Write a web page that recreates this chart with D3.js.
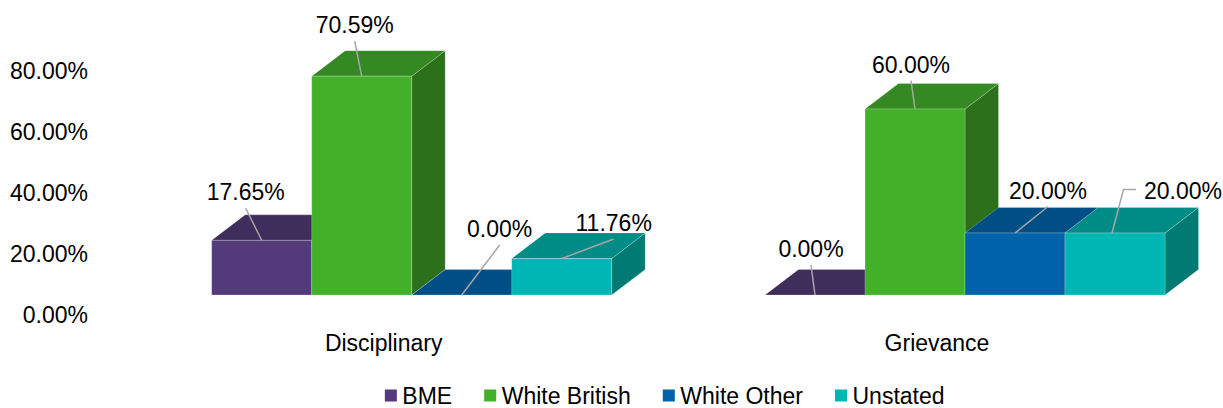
<!DOCTYPE html>
<html>
<head>
<meta charset="utf-8">
<script src="https://cdn.jsdelivr.net/npm/d3@7"></script>
<style>
  html, body { margin: 0; padding: 0; background: #fff; }
  svg { display: block; font-family: "Liberation Sans", Arial, sans-serif; }
</style>
</head>
<body>
<svg id="chart" width="1223" height="408"></svg>
<script>
// ---- data ----
const categories = ["Disciplinary", "Grievance"];
const seriesNames = ["BME", "White British", "White Other", "Unstated"];
const disciplinary = [17.65, 70.59, 0.00, 11.76];
const grievance = [0.00, 60.00, 20.00, 20.00];
const tickValues = [0, 20, 40, 60, 80];

// ---- styling ----
// front / top / side shades for each series
const palette = {
  "BME":           { front: "#533A7B", top: "#3F2D5B", side: "#33244A" },
  "White British": { front: "#43B02A", top: "#348922", side: "#2C701C" },
  "White Other":   { front: "#0063A9", top: "#004E86", side: "#00406E" },
  "Unstated":      { front: "#00B6B4", top: "#008C86", side: "#007A72" }
};
// data label placement relative to the front-top centre of each bar
const labelOffsets = {
  "Disciplinary": [[-16, -40], [-7, -43], [38, -58], [52, -27.5]],
  "Grievance":    [[-4, -38], [-4, -36.5], [33, -34.5], [68, -34.5]]
};
const elbowLeader = { "Grievance": [false, false, false, true], "Disciplinary": [false, false, false, false] };

const FONT = 23;
const depth = { dx: 33.5, dy: -25.5 };

const svg = d3.select("#chart");

// ---- scales ----
const xCat = d3.scalePoint().domain(categories).range([411.7, 965]);
const groupWidth = 400;
const xSeries = d3.scaleBand().domain(seriesNames).range([0, groupWidth]);
const y = d3.scaleLinear().domain([0, 80]).range([295, 47]);
const yAxisScale = d3.scaleLinear().domain([0, 80]).range([315, 70.6]);
const pct = v => d3.format(".2%")(v / 100);

// ---- value axis labels ----
svg.append("g").selectAll("text")
  .data(tickValues)
  .join("text")
  .attr("x", 88)
  .attr("y", d => yAxisScale(d))
  .attr("dy", "0.35em")
  .attr("text-anchor", "end")
  .attr("font-size", FONT)
  .attr("fill", "#000")
  .text(d => pct(d));

// ---- bars ----
const rows = [];
categories.forEach((cat, ci) => {
  const vals = ci === 0 ? disciplinary : grievance;
  seriesNames.forEach((s, si) => rows.push({ cat, s, si, v: vals[si] }));
});

const barsG = svg.append("g");
rows.forEach(d => {
  const x0 = xCat(d.cat) - groupWidth / 2 + xSeries(d.s);
  const x1 = x0 + xSeries.bandwidth();
  const yb = y(0), yt = y(d.v);
  const c = palette[d.s];
  const g = barsG.append("g");
  const pts = p => p.map(q => q.join(",")).join(" ");
  const edge = "rgba(255,255,255,0.28)";
  // right side face
  g.append("polygon")
    .attr("points", pts([[x1, yt], [x1 + depth.dx, yt + depth.dy], [x1 + depth.dx, yb + depth.dy], [x1, yb]]))
    .attr("fill", c.side).attr("stroke", edge).attr("stroke-width", 0.8);
  // top face
  g.append("polygon")
    .attr("points", pts([[x0, yt], [x0 + depth.dx, yt + depth.dy], [x1 + depth.dx, yt + depth.dy], [x1, yt]]))
    .attr("fill", c.top).attr("stroke", edge).attr("stroke-width", 0.8);
  // front face
  if (yb - yt > 0) {
    g.append("rect")
      .attr("x", x0).attr("y", yt)
      .attr("width", x1 - x0).attr("height", yb - yt)
      .attr("fill", c.front).attr("stroke", edge).attr("stroke-width", 0.8);
  }
});

// ---- data labels with leader lines ----
const labelsG = svg.append("g");
rows.forEach(d => {
  const ax = xCat(d.cat) - groupWidth / 2 + xSeries(d.s) + xSeries.bandwidth() / 2;
  const ay = y(d.v);
  const [dx, dy] = labelOffsets[d.cat][d.si];
  const tx = ax + dx, ty = ay + dy;
  const t = labelsG.append("text")
    .attr("x", tx).attr("y", ty)
    .attr("text-anchor", "middle")
    .attr("font-size", FONT)
    .attr("fill", "#000")
    .text(pct(d.v));
  let path;
  if (elbowLeader[d.cat][d.si]) {
    const w = t.node().getComputedTextLength();
    const lx = tx - w / 2 - 8, ly = ty - 9;
    path = [[lx, ly], [lx - 12.5, ly], [ax - 3, ay]];
  } else {
    path = [[tx, ty + 8], [ax, ay]];
  }
  labelsG.append("path")
    .attr("d", d3.line()(path))
    .attr("fill", "none")
    .attr("stroke", "#A6A6A6")
    .attr("stroke-width", 1.5);
});

// ---- category labels ----
svg.append("g").selectAll("text")
  .data(categories)
  .join("text")
  .attr("x", d => xCat(d) - 28)
  .attr("y", 351)
  .attr("text-anchor", "middle")
  .attr("font-size", FONT)
  .attr("fill", "#000")
  .text(d => d);

// ---- legend ----
const legend = svg.append("g");
const sq = 12, gapText = 5.5, gapItem = 32;
let cursor = 0;
seriesNames.forEach(s => {
  const g = legend.append("g");
  g.append("rect").attr("x", 0).attr("y", -sq / 2).attr("width", sq).attr("height", sq)
    .attr("fill", palette[s].front);
  const t = g.append("text").attr("x", sq + gapText).attr("y", 0).attr("dy", "0.35em")
    .attr("font-size", FONT).attr("fill", "#000").text(s);
  const w = sq + gapText + t.node().getComputedTextLength();
  g.attr("transform", `translate(${cursor},0)`);
  cursor += w + gapItem;
});
const legendWidth = cursor - gapItem;
legend.attr("transform", `translate(${664.7 - legendWidth / 2},395.5)`);
</script>
</body>
</html>
